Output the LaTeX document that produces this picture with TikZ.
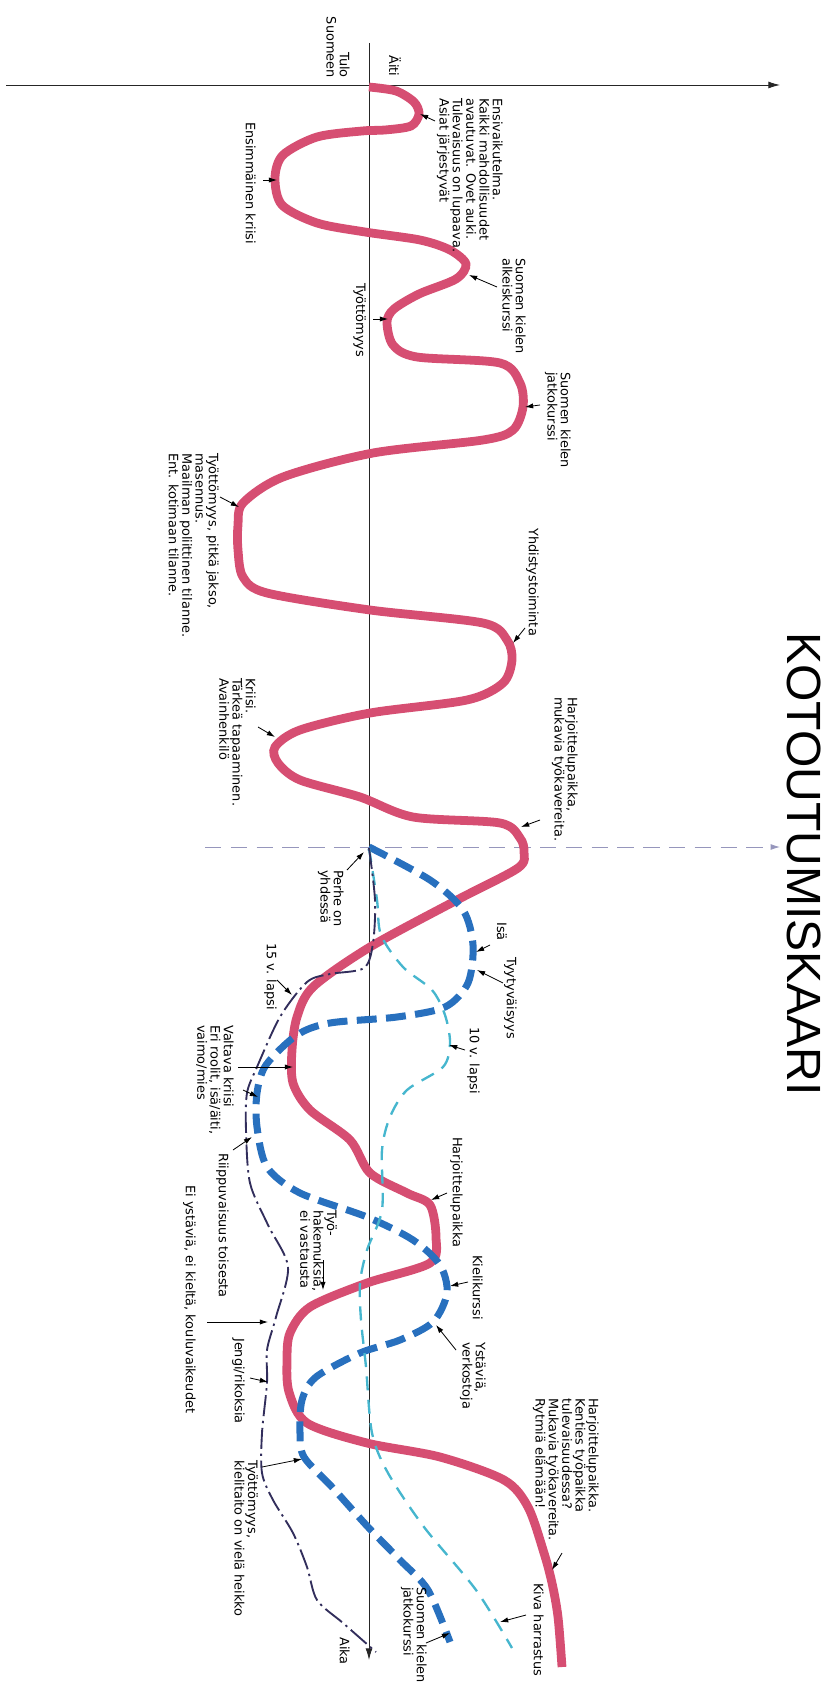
\documentclass[tikz,border=0pt]{standalone}
\usepackage{fontspec}
\setmainfont{DejaVu Sans}
\newfontfamily\otsikkofont{Liberation Sans}
\usetikzlibrary{arrows.meta}
\definecolor{kaari}{RGB}{214,78,114}
\definecolor{isa}{RGB}{40,112,190}
\definecolor{lapsiA}{RGB}{70,182,206}
\definecolor{lapsiB}{RGB}{50,46,92}
\definecolor{apuviiva}{RGB}{150,150,188}
\tikzset{
    akseli/.style={-{Latex[length=10pt,width=6pt]}, line width=0.8pt, black!85}, % aikajanat
    pil/.style={-{Latex[length=7pt,width=4.5pt]}, line width=0.7pt, black}, % selitysnuolet
    lbl/.style={rotate=-90, anchor=north west, align=left, inner sep=0pt,
        font=\fontsize{11}{11.4}\selectfont},
    aiti/.style={line width=7.5pt, kaari},
    isaviiva/.style={line width=6pt, isa, dash pattern=on 17pt off 8pt},
    lapsi10/.style={line width=2pt, lapsiA, dash pattern=on 12pt off 8pt},
    lapsi15/.style={line width=1.6pt, lapsiB, dash pattern=on 18pt off 4pt on 2pt off 4pt},
}
\begin{document}
\begin{tikzpicture}[x=0.03cm, y=-0.03cm]
    \useasboundingbox (0,0) rectangle (822,1693);

    % Akselit
    \coordinate (vasen) at (6,85);
    \coordinate (oikea) at (780,85);
    \coordinate (ylos) at (369,43);
    \coordinate (alas) at (369,1660);
    \coordinate (perheV) at (205,847);
    \coordinate (perheO) at (780,847);
    \draw[akseli] (vasen) -- (oikea);
    \draw[akseli] (ylos) -- (alas);
    \draw[-{Latex[length=8pt,width=5pt]}, line width=0.7pt, apuviiva, dash pattern=on 14pt off 8pt] (perheV) -- (perheO);

    % Kayrat
    \draw[aiti] plot[smooth, tension=0.5] coordinates {
        (369,87) (396,91) (414,102) (419,114) (411,126) (385,130) (362,131)
        (317,137) (283,155) (275,178) (282,205) (317,223) (365,232) (420,240)
        (450,250) (466,264) (456,279) (419,294) (394,309) (387,322) (393,345)
        (417,357) (500,363) (520,383) (523,407) (513,430) (483,440) (373,453)
        (283,477) (243,503) (238,525) (238,550) (243,577) (267,593) (370,610)
        (483,623) (507,640) (512,660) (503,683) (467,700) (370,713) (300,730)
        (275,747) (278,763) (300,780) (360,797) (413,817) (500,823) (520,838)
        (524,852) (518,868) (457,900) (370,947) (313,987) (297,1017) (292,1050)
        (293,1083) (310,1110) (350,1140) (370,1173) (407,1193) (430,1205)
        (436,1237) (430,1263) (367,1283) (310,1307) (290,1333) (287,1360)
        (289,1392) (307,1423) (367,1443) (440,1457) (504,1480) (528,1507)
        (544,1553) (552,1583) (558,1617) (562,1667)};
    \draw[isaviiva] plot[smooth, tension=0.5] coordinates {
        (369,847) (430,880) (463,910) (473,945) (468,983) (445,1007) (397,1017)
        (330,1023) (297,1035) (266,1065) (257,1093) (257,1127) (267,1167)
        (300,1193) (367,1217) (413,1240) (440,1265) (447,1293) (433,1322)
        (400,1340) (360,1353) (316,1377) (302,1400) (300,1433) (304,1457)
        (332,1487) (368,1527) (400,1560) (428,1590) (450,1642)};
    \draw[lapsi10] plot[smooth, tension=0.5] coordinates {
        (369,848) (377,900) (381,935) (403,967) (432,990) (445,1015) (450,1043)
        (443,1067) (407,1090) (390,1117) (382,1150) (382,1210) (367,1250)
        (360,1283) (361,1320) (366,1367) (372,1433) (388,1473) (424,1527)
        (476,1590) (512,1648)};
    \draw[lapsi15] plot[smooth, tension=0.5] coordinates {
        (369,848) (375,900) (373,943) (364,968) (330,974) (307,982) (280,1017)
        (257,1067) (247,1093) (246,1130) (250,1183) (268,1225) (288,1267)
        (276,1317) (267,1350) (267,1383) (262,1433) (262,1473) (273,1500)
        (293,1533) (307,1567) (317,1600) (343,1623) (376,1652)};

    % Tekstit
    \node[rotate=-90, anchor=north west, inner sep=0pt,
        font=\otsikkofont\fontsize{41}{41}\selectfont] (otsikko) at (821,632) {KOTOUTUMISKAARI};
    \node[lbl, anchor=north east, align=right] (tulo) at (350,78) {Tulo\\Suomeen};
    \node[lbl] (aiti) at (401,55) {Äiti};
    \node[lbl] (ensi) at (503,98) {Ensivaikutelma.\\Kaikki mahdollisuudet\\avautuvat. Ovet auki.\\Tulevaisuus on lupaava.\\Asiat järjestyvät};
    \node[lbl] (kriisiA) at (256,122) {Ensimmäinen kriisi};
    \node[lbl] (alkeis) at (526,258) {Suomen kielen\\alkeiskurssi};
    \node[lbl] (tyotA) at (366,283) {Työttömyys};
    \node[lbl] (jatkoA) at (571,372) {Suomen kielen\\jatkokurssi};
    \node[lbl] (tyotB) at (219,453) {Työttömyys, pitkä jakso,\\masennus.\\Maailman poliittinen tilanne.\\Ent. kotimaan tilanne.};
    \node[lbl] (yhd) at (539,528) {Yhdistystoiminta};
    \node[lbl] (kriisiB) at (256,678) {Kriisi.\\Tärkeä tapaaminen.\\Avainhenkilö};
    \node[lbl] (harjA) at (578,697) {Harjoittelupaikka,\\mukavia työkavereita.};
    \node[lbl] (perhe) at (344,870) {Perhe on\\yhdessä};
    \node[lbl] (isa) at (507,922) {Isä};
    \node[lbl] (tyyt) at (517,957) {Tyytyväisyys};
    \node[lbl] (lapsiK) at (480,1027) {10 v. lapsi};
    \node[lbl] (lapsiV) at (277,943) {15 v. lapsi};
    \node[lbl] (valtava) at (234,1025) {Valtava kriisi\\Eri roolit, isä/äiti,\\vaimo/mies};
    \node[lbl] (riipp) at (229,1153) {Riippuvaisuus toisesta};
    \node[lbl] (eiyst) at (196,1185) {Ei ystäviä, ei kieltä, kouluvaikeudet};
    \node[lbl] (tyoh) at (337,1210) {Työ-\\hakemuksia,\\ei vastausta};
    \node[lbl] (harjB) at (463,1137) {Harjoittelupaikka};
    \node[lbl] (kieli) at (483,1255) {Kielikurssi};
    \node[lbl] (ystav) at (486,1342) {Ystäviä,\\verkostoja};
    \node[lbl] (jengi) at (245,1338) {Jengi/rikoksia};
    \node[lbl] (harjC) at (599,1398) {Harjoittelupaikka.\\Kenties työpaikka\\tulevaisuudessa?\\Mukavia työkavereita.\\Rytmiä elämään!};
    \node[lbl] (tyotC) at (258,1460) {Työttömyys,\\kielitaito on vielä heikko};
    \node[lbl] (kiva) at (544,1583) {Kiva harrastus};
    \node[lbl] (jatkoB) at (427,1587) {Suomen kielen\\jatkokurssi};
    \node[lbl] (aika) at (350,1637) {Aika};

    % Nuolet
    \foreach \n/\t/\h in {
        ensi/{435,121}/{420,114}, kriisiA/{263,180}/{277,180},
        alkeis/{497,287}/{469,275}, tyotA/{373,319}/{388,319},
        jatkoA/{540,405}/{525,407}, tyotB/{220,497}/{239,507},
        yhd/{525,628}/{513,643}, kriisiB/{258,727}/{275,737},
        harjA/{540,820}/{521,827}, perhe/{347,870}/{364,852},
        isa/{490,945}/{476,952}, tyyt/{503,983}/{477,970},
        lapsiK/{465,1050}/{449,1045}, lapsiV/{277,980}/{292,995},
        valtavaA/{238,1067}/{293,1067}, valtavaB/{243,1090}/{258,1097},
        riipp/{233,1150}/{252,1137}, tyoh/{323,1260}/{323,1290},
        harjB/{447,1193}/{431,1200}, kieli/{468,1282}/{450,1286},
        ystav/{456,1350}/{436,1325}, eiyst/{207,1322}/{268,1322},
        jengi/{250,1378}/{268,1382}, tyotC/{262,1467}/{302,1459},
        harjC/{562,1553}/{552,1570}, kiva/{526,1615}/{500,1622},
        jatkoB/{426,1643}/{450,1633}} {
        \coordinate (\n-t) at (\t);
        \coordinate (\n-h) at (\h);
        \draw[pil] (\n-t) -- (\n-h);
    }
\end{tikzpicture}
\end{document}
